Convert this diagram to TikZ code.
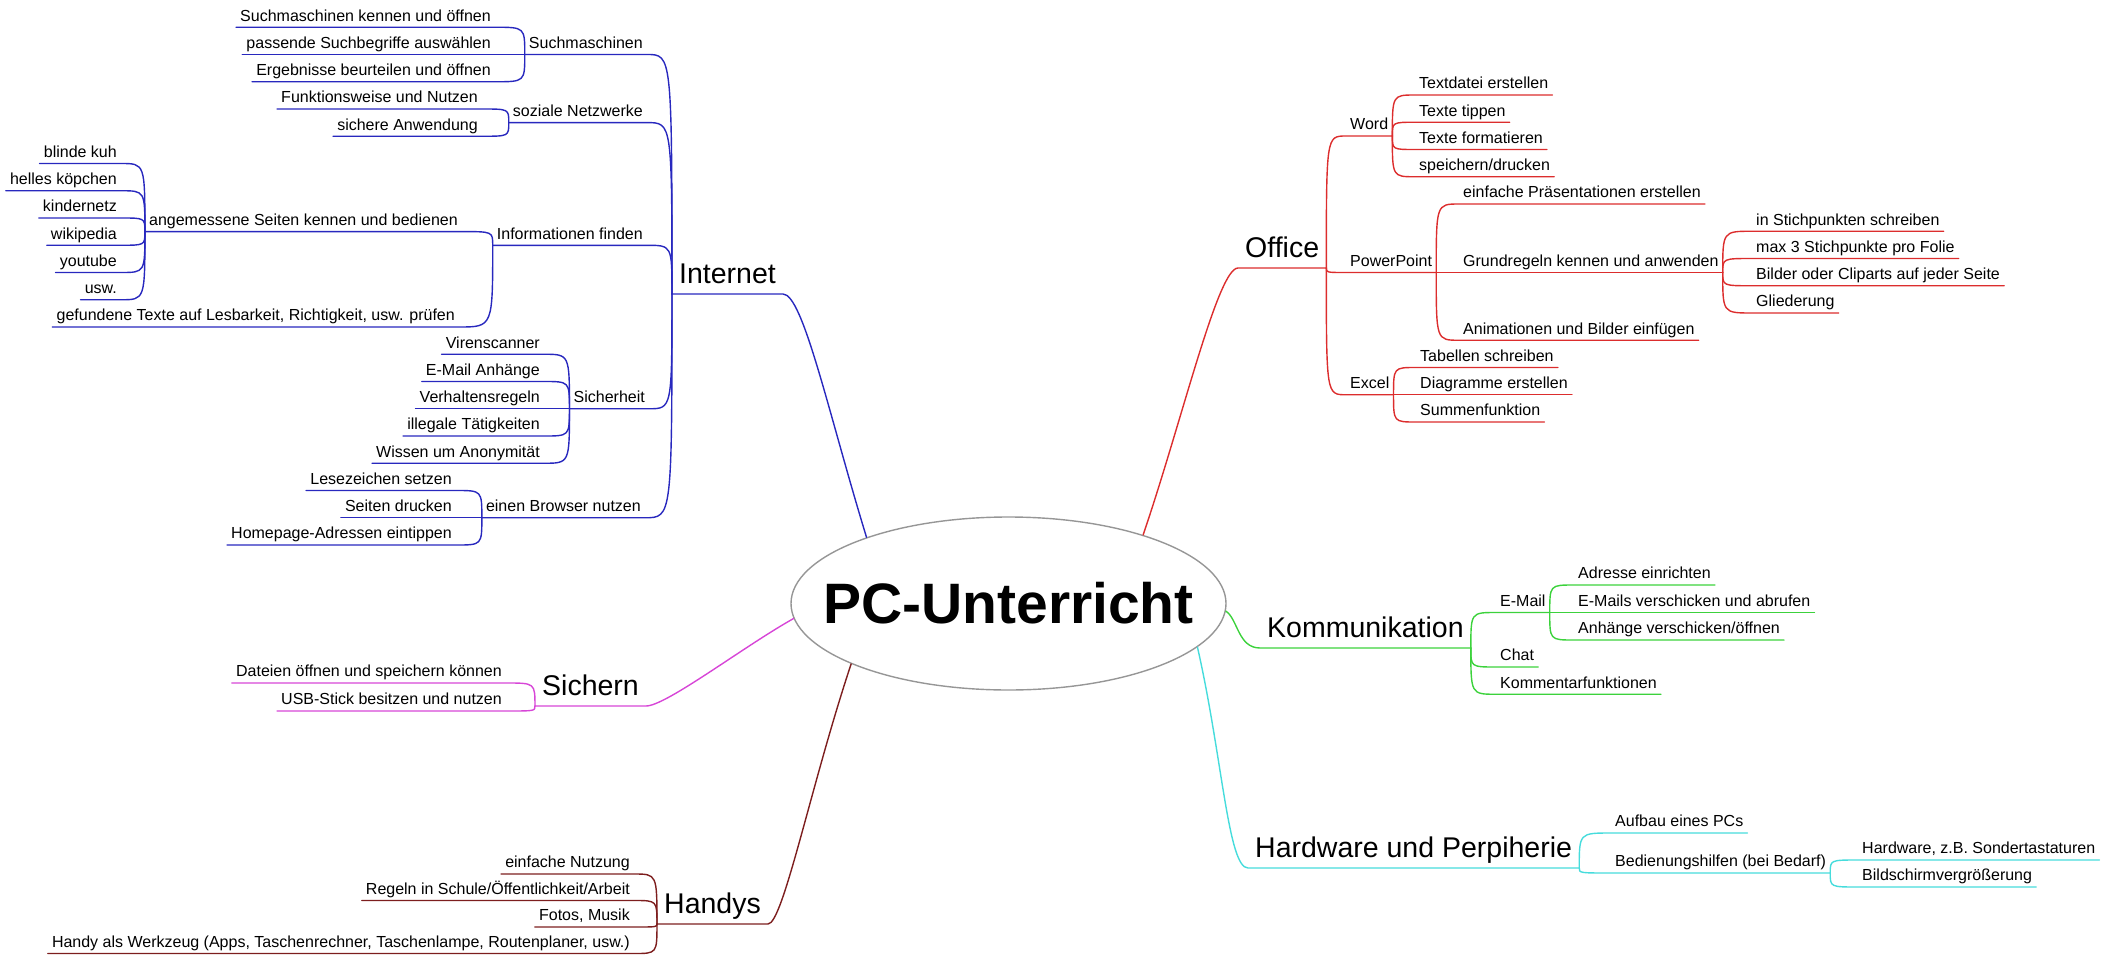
\documentclass[tikz,border=0pt]{standalone}
\usepackage{fontspec}
\setmainfont{Liberation Sans}
\usepackage{xcolor}
\usepackage{tikz}
\usetikzlibrary{shapes.geometric}

\definecolor{inetblau}{RGB}{40,40,190}
\definecolor{officerot}{RGB}{220,45,45}
\definecolor{komgruen}{RGB}{60,210,60}
\definecolor{hwcyan}{RGB}{70,220,220}
\definecolor{sichlila}{RGB}{215,70,215}
\definecolor{handybraun}{RGB}{125,30,30}
\definecolor{randgrau}{RGB}{150,150,150}

\tikzset{
  blatt/.style={text=black, font=\fontsize{16}{18}\selectfont, inner xsep=4pt, inner ysep=0pt, text height=12pt, text depth=6pt},
  li/.style={blatt, anchor=south east},
  re/.style={blatt, anchor=south west},
  haupt/.style={text=black, font=\fontsize{28.5}{32}\selectfont, inner xsep=7pt, inner ysep=0pt, text height=21pt, text depth=10pt},
  ast/.style={line width=1.4pt, line cap=round, line join=round}
}

% Ast nach links: Unterstrich, dann Bogen zum Knotenpunkt
\newcommand{\astL}[2]{\draw[ast] (#1.south west) -- (#1.south east) .. controls (#1.south east -| #2) .. (#2);}
% Ast nach rechts
\newcommand{\astR}[2]{\draw[ast] (#2) .. controls (#2 |- #1.south west) .. (#1.south west) -- (#1.south east);}

\begin{document}
\begin{tikzpicture}[x=1pt, y=1pt]
    \useasboundingbox (0,0) rectangle (2122,-955);

    % Mitte
    \node[ellipse, draw=randgrau, line width=1.4pt, minimum width=435pt, minimum height=173pt, inner sep=0pt] (pc) at (1008.5,-603.5) {};
    \node[font=\fontsize{57}{60}\selectfont\bfseries, inner sep=0pt] (pctext) at (pc.center) {PC-Unterricht};

    % Internet
    \begin{scope}[color=inetblau]
        \node[haupt, anchor=south east] (inet) at (783,-294) {Internet};
        \draw[ast] (pc.155) .. controls +(-38,124) and +(20,0) .. (inet.south east) -- (inet.south west);
        \node[li] (such) at (647,-54.5) {Suchmaschinen};
        \node[li] (sozial) at (647,-122.6) {soziale Netzwerke};
        \node[li] (info) at (647,-245.3) {Informationen finden};
        \node[li] (sicher) at (649,-408.75) {Sicherheit};
        \node[li] (browser) at (645,-517.75) {einen Browser nutzen};
        \foreach \n in {such, sozial, info, sicher, browser} {
            \astL{\n}{inet.south west}
        }

        \foreach \t [count=\i] in {Suchmaschinen kennen und öffnen, passende Suchbegriffe auswählen, Ergebnisse beurteilen und öffnen} {
            \node[li] (such\i) at (495,{-27.25*\i}) {\t};
            \astL{such\i}{such.south west}
        }
        \foreach \t [count=\i from 4] in {Funktionsweise und Nutzen, sichere Anwendung} {
            \node[li] (sozial\i) at (482,{-27.25*\i}) {\t};
            \astL{sozial\i}{sozial.south west}
        }
        \node[li] (seiten) at (462,-231.6) {angemessene Seiten kennen und bedienen};
        \node[li] (texte) at (459,-327) {gefundene Texte auf Lesbarkeit, Richtigkeit, usw. prüfen};
        \astL{seiten}{info.south west}
        \astL{texte}{info.south west}
        \foreach \t [count=\i from 6] in {blinde kuh, helles köpchen, kindernetz, wikipedia, youtube, usw.} {
            \node[li] (seiten\i) at (121,{-27.25*\i}) {\t};
            \astL{seiten\i}{seiten.south west}
        }
        \foreach \t [count=\i from 13] in {Virenscanner, E-Mail Anhänge, Verhaltensregeln, illegale Tätigkeiten, Wissen um Anonymität} {
            \node[li] (sicher\i) at (544,{-27.25*\i}) {\t};
            \astL{sicher\i}{sicher.south west}
        }
        \foreach \t [count=\i from 18] in {Lesezeichen setzen, Seiten drucken, Homepage-Adressen eintippen} {
            \node[li] (browser\i) at (456,{-27.25*\i}) {\t};
            \astL{browser\i}{browser.south west}
        }
    \end{scope}

    % Office
    \begin{scope}[color=officerot]
        \node[haupt, anchor=south west] (office) at (1238,-268) {Office};
        \draw[ast] (pc.27) .. controls +(40,118) and +(-20,0) .. (office.south west) -- (office.south east);
        \node[re] (word) at (1346,-136) {Word};
        \node[re] (ppt) at (1346,-272.5) {PowerPoint};
        \node[re] (excel) at (1346,-394.75) {Excel};
        \foreach \n in {word, ppt, excel} {
            \astR{\n}{office.south east}
        }

        \foreach \t [count=\i from 0] in {Textdatei erstellen, Texte tippen, Texte formatieren, speichern/drucken} {
            \node[re] (word\i) at (1415,{-95-27.25*\i}) {\t};
            \astR{word\i}{word.south east}
        }
        \node[re] (praes) at (1459,-204) {einfache Präsentationen erstellen};
        \node[re] (regeln) at (1459,-272.5) {Grundregeln kennen und anwenden};
        \node[re] (anim) at (1459,-340.25) {Animationen und Bilder einfügen};
        \foreach \n in {praes, regeln, anim} {
            \astR{\n}{ppt.south east}
        }
        \foreach \t [count=\i from 5] in {in Stichpunkten schreiben, max 3 Stichpunkte pro Folie, Bilder oder Cliparts auf jeder Seite, Gliederung} {
            \node[re] (regeln\i) at (1752,{-95-27.25*\i}) {\t};
            \astR{regeln\i}{regeln.south east}
        }
        \foreach \t [count=\i from 10] in {Tabellen schreiben, Diagramme erstellen, Summenfunktion} {
            \node[re] (excel\i) at (1416,{-95-27.25*\i}) {\t};
            \astR{excel\i}{excel.south east}
        }
    \end{scope}

    % Kommunikation
    \begin{scope}[color=komgruen]
        \node[haupt, anchor=south west] (kom) at (1260,-648) {Kommunikation};
        \draw[ast] (pc.-2) .. controls +(12,-8) and +(-22,0) .. (kom.south west) -- (kom.south east);
        \node[re] (mail) at (1496,-612.5) {E-Mail};
        \node[re] (chat) at (1496,-667) {Chat};
        \node[re] (komm) at (1496,-694.25) {Kommentarfunktionen};
        \foreach \n in {mail, chat, komm} {
            \astR{\n}{kom.south east}
        }
        \foreach \t [count=\i from 0] in {Adresse einrichten, E-Mails verschicken und abrufen, Anhänge verschicken/öffnen} {
            \node[re] (mail\i) at (1574,{-585-27.5*\i}) {\t};
            \astR{mail\i}{mail.south east}
        }
    \end{scope}

    % Hardware
    \begin{scope}[color=hwcyan]
        \node[haupt, anchor=south west] (hw) at (1248,-868) {Hardware und Perpiherie};
        \draw[ast] (pc.-13) .. controls +(25,-110) and +(-20,0) .. (hw.south west) -- (hw.south east);
        \node[re] (aufbau) at (1611,-833) {Aufbau eines PCs};
        \node[re] (hilfe) at (1611,-873) {Bedienungshilfen (bei Bedarf)};
        \astR{aufbau}{hw.south east}
        \astR{hilfe}{hw.south east}
        \foreach \t [count=\i from 0] in {{Hardware, z.B. Sondertastaturen}, Bildschirmvergrößerung} {
            \node[re] (hilfe\i) at (1858,{-860-27*\i}) {\t};
            \astR{hilfe\i}{hilfe.south east}
        }
    \end{scope}

    % Sichern
    \begin{scope}[color=sichlila]
        \node[haupt, anchor=south east] (sich) at (646,-706) {Sichern};
        \draw[ast] (pc.184.5) .. controls +(-50,-28) and +(20,0) .. (sich.south east) -- (sich.south west);
        \foreach \t [count=\i from 0] in {Dateien öffnen und speichern können, USB-Stick besitzen und nutzen} {
            \node[li] (sich\i) at (506,{-683-28*\i}) {\t};
            \astL{sich\i}{sich.south west}
        }
    \end{scope}

    % Handys
    \begin{scope}[color=handybraun]
        \node[haupt, anchor=south east] (handy) at (768,-924) {Handys};
        \draw[ast] (pc.201.8) .. controls +(-40,-120) and +(15,0) .. (handy.south east) -- (handy.south west);
        \foreach \t [count=\i from 0] in {einfache Nutzung, Regeln in Schule/Öffentlichkeit/Arbeit, {Fotos, Musik}, {Handy als Werkzeug (Apps, Taschenrechner, Taschenlampe, Routenplaner, usw.)}} {
            \node[li] (handy\i) at (634,{-874-26.5*\i}) {\t};
            \astL{handy\i}{handy.south west}
        }
    \end{scope}
\end{tikzpicture}
\end{document}
